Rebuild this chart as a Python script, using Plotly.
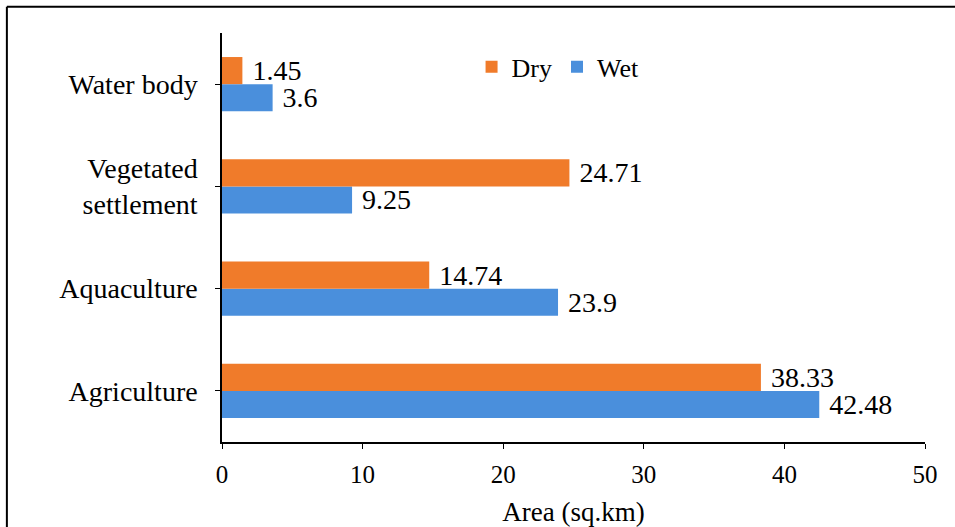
import plotly.graph_objects as go

# Land-cover classes, bottom to top on the category axis
categories = ["Agriculture", "Aquaculture", "Vegetated<br>settlement", "Water body"]
dry_area = [38.33, 14.74, 24.71, 1.45]
wet_area = [42.48, 23.9, 9.25, 3.6]
x_ticks = [0, 10, 20, 30, 40, 50]

SERIF = "Liberation Serif"
DRY_COLOR = "#F07B2A"
WET_COLOR = "#4A8FDC"

fig = go.Figure()
# Wet first so that it sits below Dry within each group
fig.add_trace(go.Bar(
    y=categories, x=wet_area, name="Wet", orientation="h",
    marker=dict(color=WET_COLOR, line=dict(width=0)),
    texttemplate=" %{x}", textposition="outside", cliponaxis=False,
    constraintext="none",
    textfont=dict(family=SERIF, size=28, color="black"),
    legendrank=2,
))
fig.add_trace(go.Bar(
    y=categories, x=dry_area, name="Dry", orientation="h",
    marker=dict(color=DRY_COLOR, line=dict(width=0)),
    texttemplate=" %{x}", textposition="outside", cliponaxis=False,
    constraintext="none",
    textfont=dict(family=SERIF, size=28, color="black"),
    legendrank=1,
))

fig.update_layout(
    width=955, height=527,
    margin=dict(l=222, r=30, t=33, b=85),
    paper_bgcolor="white", plot_bgcolor="white",
    barmode="group", bargap=0.47, bargroupgap=0,
    font=dict(family=SERIF, color="black", size=24),
    showlegend=True,
    legend=dict(
        orientation="h", x=0.355, y=0.917, xanchor="left", yanchor="middle",
        font=dict(family=SERIF, size=26, color="black"),
        bgcolor="rgba(0,0,0,0)", itemwidth=30,
    ),
    xaxis=dict(
        range=[0, 50], tickvals=x_ticks, showgrid=False, zeroline=False,
        showline=True, linecolor="black", linewidth=1.5,
        ticks="outside", ticklen=5, tickcolor="black",
        tickfont=dict(family=SERIF, size=25, color="black"),
        ticklabelstandoff=4, automargin=False,
        title=dict(text="Area (sq.km)", font=dict(family=SERIF, size=27, color="black"), standoff=16),
    ),
    yaxis=dict(
        range=[-0.5, 3.5], showgrid=False, zeroline=False,
        showline=True, linecolor="black", linewidth=1.5,
        ticks="outside", ticklen=5, tickcolor="black",
        tickfont=dict(family=SERIF, size=28, color="black"),
        ticklabelstandoff=12, automargin=False,
    ),
    shapes=[
        # outer frame: left and top edges
        dict(type="line", xref="paper", yref="paper",
             x0=-0.306, x1=-0.306, y0=1.064, y1=-0.3, line=dict(color="black", width=2)),
        dict(type="line", xref="paper", yref="paper",
             x0=-0.306, x1=1.05, y0=1.064, y1=1.064, line=dict(color="black", width=2)),
    ],
)

fig.write_html("out.html")
